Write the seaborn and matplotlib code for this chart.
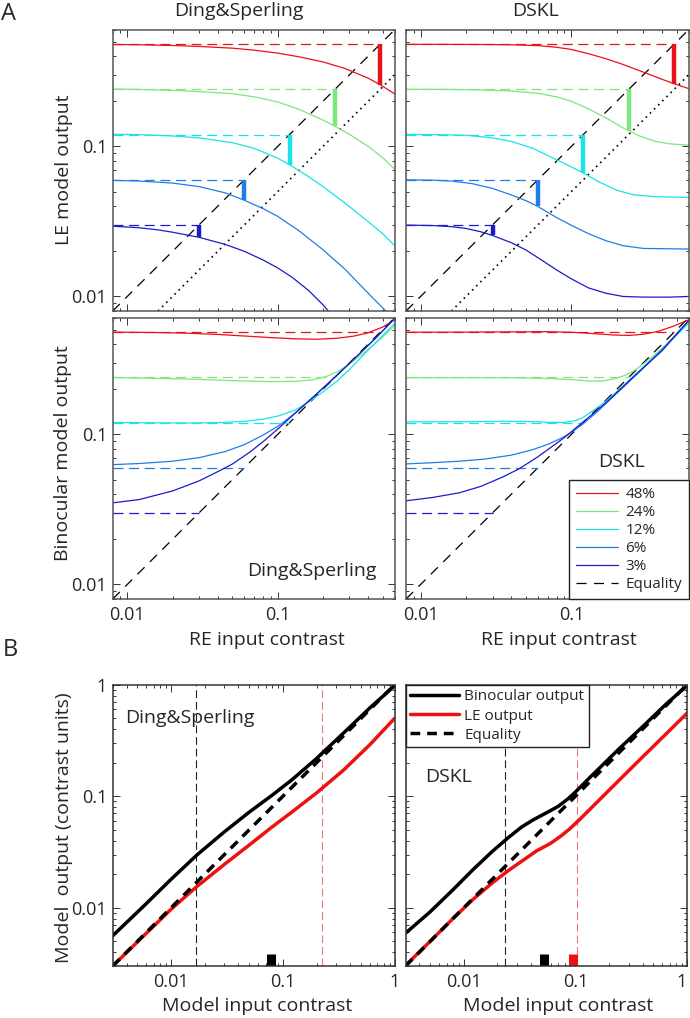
import matplotlib
matplotlib.use("Agg")
import matplotlib.pyplot as plt
from matplotlib.lines import Line2D
from matplotlib.ticker import NullFormatter
import pandas as pd
import seaborn as sns

sns.set_style("ticks")
plt.rcParams["font.family"] = ["Open Sans", "DejaVu Sans"]

# ── data ───────────────────────────────────────────────────────────────────
LEVELS = [0.48, 0.24, 0.12, 0.06, 0.03]
LEVEL_LABELS = ["48%", "24%", "12%", "6%", "3%"]
COLORS = ["#e8121b", "#7de67d", "#19e3e6", "#1f7ee6", "#1c1cc8"]

# A, top: LE model output vs RE input contrast
DS_LE_X = [
    [0.008, 0.012, 0.02, 0.03, 0.05, 0.07, 0.1, 0.14, 0.2, 0.28, 0.4, 0.48, 0.6],
    [0.008, 0.012, 0.02, 0.03, 0.05, 0.07, 0.1, 0.14, 0.2, 0.24, 0.3, 0.4, 0.5, 0.6],
    [0.008, 0.012, 0.02, 0.03, 0.05, 0.07, 0.1, 0.12, 0.16, 0.2, 0.28, 0.4, 0.5, 0.6],
    [0.008, 0.012, 0.02, 0.03, 0.045, 0.06, 0.08, 0.1, 0.14, 0.2, 0.28, 0.4, 0.537, 0.56],
    [0.008, 0.012, 0.016, 0.02, 0.03, 0.045, 0.06, 0.08, 0.1, 0.125, 0.16, 0.2, 0.22],
]
DS_LE_Y = [
    [0.478, 0.476, 0.471, 0.464, 0.452, 0.438, 0.419, 0.395, 0.366, 0.331, 0.285, 0.258, 0.224],
    [0.2415, 0.240, 0.2366, 0.232, 0.2249, 0.214, 0.198, 0.176, 0.150, 0.1364, 0.1205, 0.100, 0.084, 0.0704],
    [0.1207, 0.1198, 0.1175, 0.1140, 0.1060, 0.0970, 0.0835, 0.0755, 0.0630, 0.0540, 0.0420, 0.0315, 0.0262, 0.0218],
    [0.0594, 0.0588, 0.0570, 0.0540, 0.0490, 0.0438, 0.0385, 0.0342, 0.0272, 0.0205, 0.0152, 0.0105, 0.0078, 0.0074],
    [0.0294, 0.0287, 0.0278, 0.0268, 0.0248, 0.0222, 0.0200, 0.0175, 0.0155, 0.0134, 0.0110, 0.0088, 0.0079],
]
DS_BAR_LOW = [0.258, 0.1364, 0.0755, 0.0438, 0.0248]

DSKL_LE_X = [
    [0.008, 0.015, 0.025, 0.04, 0.06, 0.08, 0.1, 0.13, 0.17, 0.22, 0.3, 0.4, 0.48, 0.6],
    [0.008, 0.015, 0.025, 0.04, 0.06, 0.08, 0.1, 0.13, 0.17, 0.22, 0.28, 0.36, 0.45, 0.6],
    [0.008, 0.012, 0.02, 0.03, 0.04, 0.055, 0.075, 0.1, 0.12, 0.15, 0.2, 0.26, 0.36, 0.6],
    [0.008, 0.012, 0.016, 0.022, 0.03, 0.04, 0.05, 0.06, 0.08, 0.1, 0.13, 0.17, 0.22, 0.3, 0.6],
    [0.008, 0.012, 0.016, 0.02, 0.025, 0.03, 0.04, 0.05, 0.065, 0.08, 0.1, 0.13, 0.17, 0.22, 0.3, 0.45, 0.6],
]
DSKL_LE_Y = [
    [0.479, 0.479, 0.478, 0.476, 0.470, 0.458, 0.443, 0.415, 0.384, 0.352, 0.313, 0.280, 0.262, 0.243],
    [0.2405, 0.2400, 0.238, 0.234, 0.226, 0.214, 0.200, 0.178, 0.155, 0.133, 0.118, 0.108, 0.104, 0.102],
    [0.1203, 0.1200, 0.1188, 0.1140, 0.1080, 0.0975, 0.0840, 0.0730, 0.0665, 0.0585, 0.0510, 0.0476, 0.0462, 0.0457],
    [0.0599, 0.0596, 0.0588, 0.0565, 0.0525, 0.0475, 0.0435, 0.0398, 0.0335, 0.0298, 0.0262, 0.0235, 0.0218, 0.0209, 0.0207],
    [0.0299, 0.0297, 0.0292, 0.0284, 0.0270, 0.0255, 0.0228, 0.0204, 0.0172, 0.0150, 0.0131, 0.0114, 0.0105, 0.0100, 0.0099, 0.0099, 0.0100],
]
DSKL_BAR_LOW = [0.262, 0.127, 0.0665, 0.0398, 0.0255]

# A, bottom: binocular model output vs RE input contrast
DS_BIN_X = [
    [0.008, 0.015, 0.025, 0.04, 0.06, 0.09, 0.13, 0.18, 0.25, 0.32, 0.4, 0.5, 0.6],
    [0.008, 0.015, 0.025, 0.04, 0.06, 0.09, 0.13, 0.17, 0.21, 0.25, 0.3, 0.38, 0.48, 0.6],
    [0.008, 0.015, 0.025, 0.04, 0.06, 0.08, 0.1, 0.13, 0.16, 0.2, 0.25, 0.3, 0.4, 0.6],
    [0.008, 0.012, 0.02, 0.03, 0.045, 0.06, 0.08, 0.1, 0.13, 0.175, 0.25, 0.35, 0.45, 0.6],
    [0.008, 0.012, 0.02, 0.03, 0.04, 0.05, 0.065, 0.08, 0.1, 0.13, 0.175, 0.25, 0.35, 0.45, 0.6],
]
DS_BIN_Y = [
    [0.481, 0.478, 0.473, 0.464, 0.453, 0.442, 0.434, 0.431, 0.438, 0.452, 0.476, 0.520, 0.580],
    [0.239, 0.237, 0.234, 0.230, 0.227, 0.225, 0.226, 0.231, 0.243, 0.262, 0.295, 0.355, 0.430, 0.530],
    [0.1202, 0.1195, 0.1192, 0.1198, 0.1222, 0.1265, 0.1325, 0.145, 0.164, 0.192, 0.228, 0.271, 0.365, 0.550],
    [0.0629, 0.0640, 0.0663, 0.0700, 0.0770, 0.0855, 0.0990, 0.1130, 0.1380, 0.1800, 0.250, 0.345, 0.440, 0.590],
    [0.0350, 0.0368, 0.0420, 0.0490, 0.0565, 0.0635, 0.0760, 0.0895, 0.1085, 0.138, 0.180, 0.250, 0.345, 0.440, 0.595],
]

DSKL_BIN_X = [
    [0.008, 0.02, 0.04, 0.07, 0.1, 0.14, 0.19, 0.24, 0.3, 0.38, 0.47, 0.6],
    [0.008, 0.02, 0.045, 0.07, 0.1, 0.13, 0.16, 0.19, 0.22, 0.26, 0.32, 0.4, 0.5, 0.6],
    [0.008, 0.02, 0.035, 0.05, 0.07, 0.09, 0.105, 0.12, 0.14, 0.17, 0.2, 0.27, 0.4, 0.6],
    [0.008, 0.012, 0.018, 0.027, 0.04, 0.055, 0.07, 0.085, 0.1, 0.12, 0.15, 0.2, 0.27, 0.4, 0.6],
    [0.008, 0.012, 0.018, 0.025, 0.035, 0.045, 0.06, 0.075, 0.09, 0.11, 0.14, 0.18, 0.25, 0.4, 0.6],
]
DSKL_BIN_Y = [
    [0.480, 0.481, 0.483, 0.484, 0.480, 0.470, 0.460, 0.457, 0.465, 0.488, 0.525, 0.580],
    [0.2388, 0.2388, 0.2385, 0.236, 0.232, 0.227, 0.227, 0.234, 0.245, 0.265, 0.310, 0.375, 0.460, 0.554],
    [0.1213, 0.1215, 0.1225, 0.1222, 0.1205, 0.1203, 0.1230, 0.130, 0.1445, 0.167, 0.193, 0.255, 0.368, 0.554],
    [0.0636, 0.0648, 0.0663, 0.0686, 0.0728, 0.0790, 0.0860, 0.0940, 0.1030, 0.118, 0.143, 0.188, 0.250, 0.368, 0.575],
    [0.0361, 0.0380, 0.0408, 0.0450, 0.0520, 0.0590, 0.0710, 0.0835, 0.0955, 0.1130, 0.138, 0.172, 0.235, 0.362, 0.575],
]

# B: model output vs model input contrast
B_DS_BIN_X = [0.003, 0.006, 0.01, 0.017, 0.03, 0.05, 0.08, 0.12, 0.2, 0.35, 0.6, 1.0]
B_DS_BIN_Y = [0.0056, 0.0109, 0.0180, 0.0297, 0.0480, 0.0720, 0.1020, 0.140, 0.218, 0.370, 0.620, 0.98]
B_DS_LE_X = [0.003, 0.006, 0.01, 0.017, 0.03, 0.05, 0.08, 0.12, 0.2, 0.35, 0.6, 1.0]
B_DS_LE_Y = [0.003, 0.0059, 0.0097, 0.0155, 0.0245, 0.0365, 0.0530, 0.0720, 0.107, 0.172, 0.290, 0.50]
B_DS_VLINES = [0.0168, 0.222]          # black, red
B_DS_MARKS = [0.0775]                  # black

B_DSKL_BIN_X = [0.003, 0.005, 0.008, 0.012, 0.018, 0.025, 0.033, 0.042, 0.055, 0.07,
                0.085, 0.1, 0.13, 0.17, 0.25, 0.4, 0.65, 1.0]
B_DSKL_BIN_Y = [0.0059, 0.0092, 0.0145, 0.0218, 0.0320, 0.0425, 0.0530, 0.0615, 0.0710, 0.0810,
                0.0940, 0.1090, 0.1420, 0.1850, 0.270, 0.420, 0.670, 0.98]
B_DSKL_LE_X = [0.003, 0.005, 0.008, 0.012, 0.018, 0.025, 0.033, 0.045, 0.06, 0.075,
               0.09, 0.11, 0.14, 0.2, 0.33, 0.5, 0.7, 1.0]
B_DSKL_LE_Y = [0.00303, 0.0050, 0.0080, 0.0118, 0.0167, 0.0215, 0.0261, 0.0324, 0.0378, 0.0443,
               0.0515, 0.0623, 0.0792, 0.1130, 0.1860, 0.280, 0.390, 0.554]
B_DSKL_VLINES = [0.0233, 0.1026]
B_DSKL_MARKS = [0.052, 0.0946]         # black, red

A_LIM = (0.008, 0.6)
B_LIM = (0.003, 1.0)

W, H = 690, 1018
TEXT_FS = 14
TICK_FS = 13


def rect(l, t, r, b):
    return [l / W, 1 - b / H, (r - l) / W, (b - t) / H]


def fig_text(fig, x, y, s, **kw):
    fig.text(x / W, 1 - y / H, s, **kw)


def curves_frame(xs, ys):
    parts = [pd.DataFrame({"x": x, "y": y, "level": lab})
             for lab, x, y in zip(LEVEL_LABELS, xs, ys)]
    return pd.concat(parts, ignore_index=True)


def style_axes(ax, lim, ticks, labels, show_x, show_y, edge="#555555"):
    ax.set_xscale("log")
    ax.set_yscale("log")
    ax.set_xlim(lim)
    ax.set_ylim(lim)
    ax.set_xticks(ticks, labels)
    ax.set_yticks(ticks, labels)
    ax.xaxis.set_minor_formatter(NullFormatter())
    ax.yaxis.set_minor_formatter(NullFormatter())
    ax.tick_params(which="both", direction="in", top=True, right=True,
                   color="#333333", width=0.7, labelsize=TICK_FS)
    ax.tick_params(which="major", length=5)
    ax.tick_params(which="minor", length=2.5)
    ax.tick_params(axis="x", pad=5, labelbottom=show_x)
    ax.tick_params(axis="y", pad=4, labelleft=show_y)
    for sp in ax.spines.values():
        sp.set_visible(True)
        sp.set_color(edge)
        sp.set_linewidth(1.1)
    ax.set_xlabel("")
    ax.set_ylabel("")


def draw_le_panel(ax, xs, ys, bar_low):
    ax.set_xscale("log")
    ax.set_yscale("log")
    ax.plot(A_LIM, A_LIM, color="black", lw=0.9, ls=(0, (8, 6)))
    ax.plot([2 * A_LIM[0], A_LIM[1]], [A_LIM[0], A_LIM[1] / 2],
            color="black", lw=1.2, ls=(0, (1, 2.5)))
    for c, col in zip(LEVELS, COLORS):
        ax.plot([A_LIM[0], c], [c, c], color=col, lw=0.9, ls=(0, (8, 4.5)))
    sns.lineplot(data=curves_frame(xs, ys), x="x", y="y", hue="level",
                 hue_order=LEVEL_LABELS, palette=COLORS, sort=False,
                 estimator=None, legend=False, lw=0.9, ax=ax)
    for c, low, col in zip(LEVELS, bar_low, COLORS):
        ax.plot([c, c], [low, c], color=col, lw=3.2, solid_capstyle="butt")


def draw_bin_panel(ax, xs, ys):
    ax.set_xscale("log")
    ax.set_yscale("log")
    ax.plot(A_LIM, A_LIM, color="black", lw=0.9, ls=(0, (8, 6)))
    for c, col in zip(LEVELS, COLORS):
        ax.plot([A_LIM[0], c], [c, c], color=col, lw=0.9, ls=(0, (8, 4.5)))
    sns.lineplot(data=curves_frame(xs, ys), x="x", y="y", hue="level",
                 hue_order=LEVEL_LABELS, palette=COLORS, sort=False,
                 estimator=None, legend=False, lw=0.9, ax=ax)


def draw_b_panel(ax, bx, by, lx, ly, vlines, marks, mark_colors):
    ax.set_xscale("log")
    ax.set_yscale("log")
    ax.axvline(vlines[0], color="#222222", lw=0.8, ls=(0, (7, 3.5)))
    ax.axvline(vlines[1], color="#f07575", lw=0.8, ls=(0, (7, 3.5)))
    df = pd.concat([
        pd.DataFrame({"x": bx, "y": by, "curve": "Binocular output"}),
        pd.DataFrame({"x": lx, "y": ly, "curve": "LE output"}),
    ], ignore_index=True)
    sns.lineplot(data=df, x="x", y="y", hue="curve",
                 hue_order=["Binocular output", "LE output"],
                 palette=["black", "#ee1111"], sort=False, estimator=None,
                 legend=False, lw=2.5, ax=ax)
    ax.plot(B_LIM, B_LIM, color="black", lw=2.5, ls=(0, (2.8, 2)))
    for m, col in zip(marks, mark_colors):
        ax.plot([m, m], [B_LIM[0], 0.00385], color=col, lw=6.5,
                solid_capstyle="butt")


fig = plt.figure(figsize=(W / 100, H / 100), dpi=100)

ax_tl = fig.add_axes(rect(112.7, 29.7, 394.7, 311))
ax_tr = fig.add_axes(rect(406, 29.7, 688.7, 311))
ax_bl = fig.add_axes(rect(112.7, 317.7, 394.7, 599))
ax_br = fig.add_axes(rect(406, 317.7, 688.7, 599))
ax_b1 = fig.add_axes(rect(112.7, 684.7, 394.7, 966))
ax_b2 = fig.add_axes(rect(405.5, 684.7, 687, 966))

draw_le_panel(ax_tl, DS_LE_X, DS_LE_Y, DS_BAR_LOW)
draw_le_panel(ax_tr, DSKL_LE_X, DSKL_LE_Y, DSKL_BAR_LOW)
draw_bin_panel(ax_bl, DS_BIN_X, DS_BIN_Y)
draw_bin_panel(ax_br, DSKL_BIN_X, DSKL_BIN_Y)
draw_b_panel(ax_b1, B_DS_BIN_X, B_DS_BIN_Y, B_DS_LE_X, B_DS_LE_Y,
             B_DS_VLINES, B_DS_MARKS, ["black"])
draw_b_panel(ax_b2, B_DSKL_BIN_X, B_DSKL_BIN_Y, B_DSKL_LE_X, B_DSKL_LE_Y,
             B_DSKL_VLINES, B_DSKL_MARKS, ["black", "#ee1111"])

a_ticks, a_labels = [0.01, 0.1], ["0.01", "0.1"]
b_ticks, b_labels = [0.01, 0.1, 1], ["0.01", "0.1", "1"]
style_axes(ax_tl, A_LIM, a_ticks, a_labels, False, True)
style_axes(ax_tr, A_LIM, a_ticks, a_labels, False, False)
style_axes(ax_bl, A_LIM, a_ticks, a_labels, True, True)
style_axes(ax_br, A_LIM, a_ticks, a_labels, True, False)
style_axes(ax_b1, B_LIM, b_ticks, b_labels, True, True, edge="#333333")
style_axes(ax_b2, B_LIM, b_ticks, b_labels, True, False, edge="#333333")
# keep the "1" at the right edge of the figure inside the canvas
ax_b2.get_xticklabels()[-1].set_horizontalalignment("right")

# legends
a_handles = [Line2D([], [], color=c, lw=0.9) for c in COLORS]
a_handles.append(Line2D([], [], color="black", lw=0.9, ls=(0, (8, 6))))
leg = ax_br.legend(a_handles, LEVEL_LABELS + ["Equality"], loc="lower right",
                   borderaxespad=0, fancybox=False, framealpha=1,
                   edgecolor="#222222", fontsize=11, handlelength=2.7,
                   handletextpad=0.5, labelspacing=0.2, borderpad=0.45)
leg.get_frame().set_linewidth(1.0)

b_handles = [
    Line2D([], [], color="black", lw=2.5),
    Line2D([], [], color="#ee1111", lw=2.5),
    Line2D([], [], color="black", lw=2.5, ls=(0, (2.8, 2))),
]
leg = ax_b2.legend(b_handles, ["Binocular output", "LE output", "Equality"],
                   loc="upper left", borderaxespad=0, fancybox=False,
                   framealpha=1, edgecolor="#222222", fontsize=11,
                   handlelength=3.2, handletextpad=0.33, labelspacing=0.28,
                   borderpad=0.3)
leg.get_frame().set_linewidth(1.0)

# in-panel labels
ax_bl.text(0.934, 0.082, "Ding&Sperling", transform=ax_bl.transAxes,
           ha="right", va="baseline", fontsize=TEXT_FS)
ax_br.text(0.764, 0.47, "DSKL", transform=ax_br.transAxes,
           ha="center", va="baseline", fontsize=TEXT_FS)
ax_b1.text(0.044, 0.865, "Ding&Sperling", transform=ax_b1.transAxes,
           ha="left", va="baseline", fontsize=TEXT_FS)
ax_b2.text(0.068, 0.655, "DSKL", transform=ax_b2.transAxes,
           ha="left", va="baseline", fontsize=TEXT_FS)

# titles, axis labels, panel letters
fig_text(fig, 239, 16.5, "Ding&Sperling", ha="center", va="baseline", fontsize=TEXT_FS)
fig_text(fig, 536, 16.5, "DSKL", ha="center", va="baseline", fontsize=TEXT_FS)
fig_text(fig, 64, 170, "LE model output", ha="center", va="center",
         rotation=90, fontsize=TEXT_FS)
fig_text(fig, 63, 453, "Binocular model output", ha="center", va="center",
         rotation=90, fontsize=TEXT_FS)
fig_text(fig, 64, 828, "Model  output (contrast units)", ha="center",
         va="center", rotation=90, fontsize=TEXT_FS)
fig_text(fig, 267, 640, "RE input contrast", ha="center", va="center", fontsize=TEXT_FS)
fig_text(fig, 559, 640, "RE input contrast", ha="center", va="center", fontsize=TEXT_FS)
fig_text(fig, 257, 1006, "Model input contrast", ha="center", va="center", fontsize=TEXT_FS)
fig_text(fig, 558, 1006, "Model input contrast", ha="center", va="center", fontsize=TEXT_FS)
fig_text(fig, 1, 20, "A", ha="left", va="baseline", fontsize=17)
fig_text(fig, 3, 656, "B", ha="left", va="baseline", fontsize=17)

fig.savefig("out.png", dpi=100)
